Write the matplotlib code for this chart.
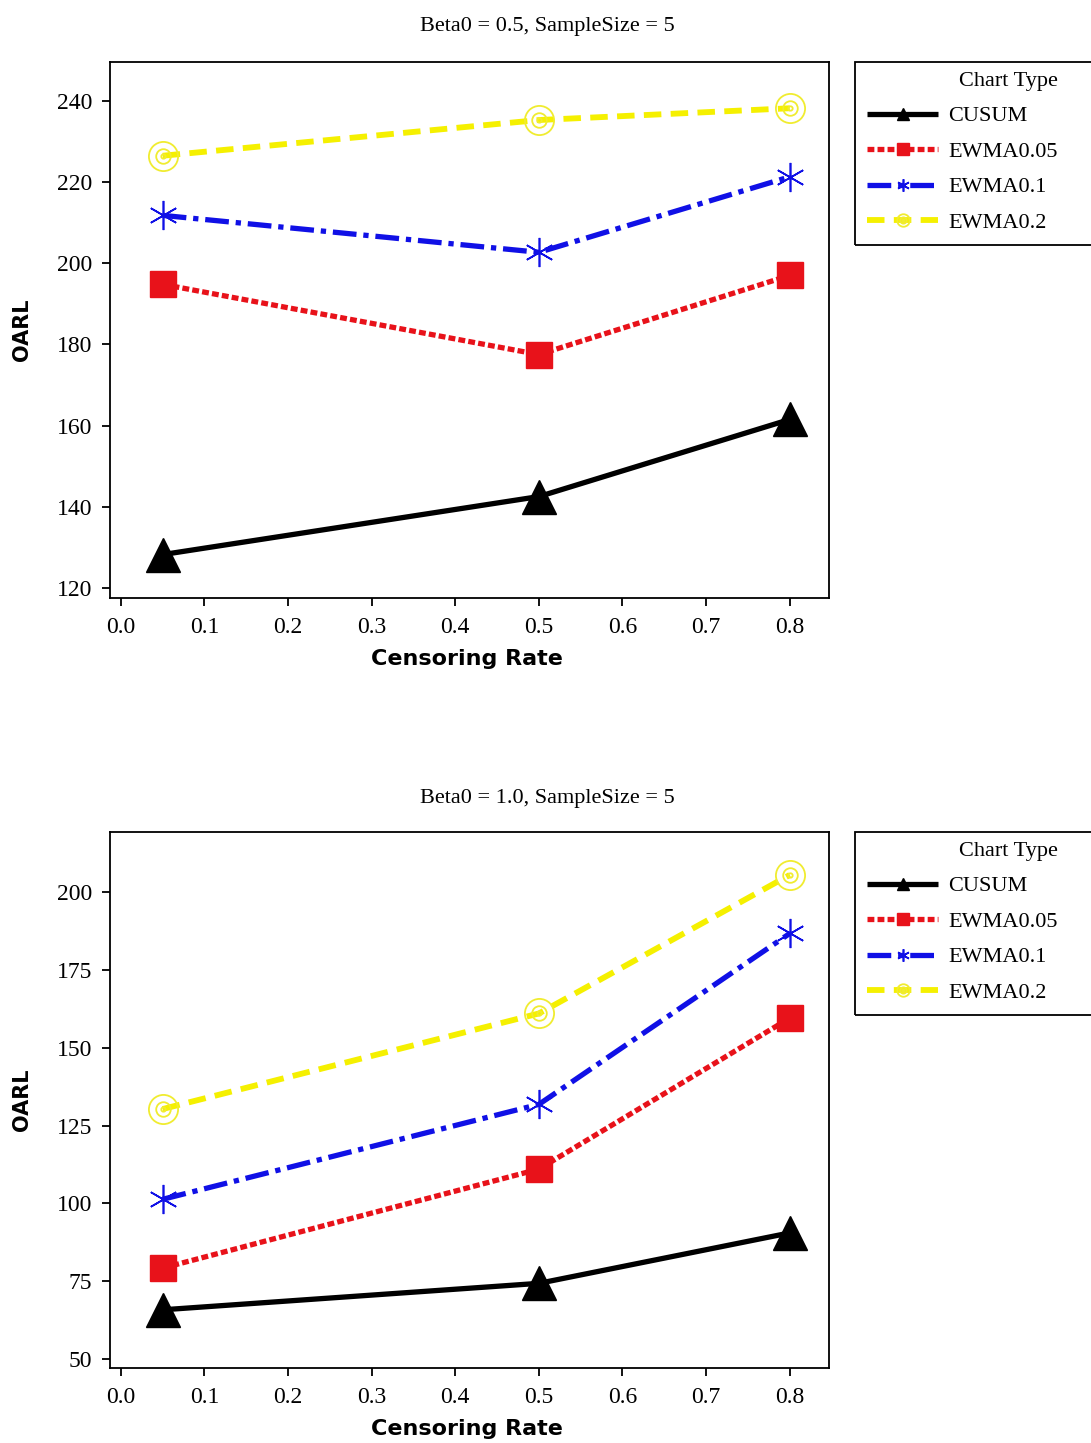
import matplotlib
matplotlib.use("Agg")
import matplotlib.pyplot as plt
from matplotlib.path import Path
from matplotlib.patches import Rectangle

censoring = [0.05, 0.5, 0.8]
series_names = ["CUSUM", "EWMA0.05", "EWMA0.1", "EWMA0.2"]

top_cusum = [128.2, 142.5, 161.5]
top_ewma005 = [194.8, 177.5, 197.0]
top_ewma01 = [211.8, 202.7, 221.3]
top_ewma02 = [226.5, 235.3, 238.2]

bot_cusum = [65.8, 74.3, 90.5]
bot_ewma005 = [79.2, 111.0, 159.5]
bot_ewma01 = [101.3, 131.8, 186.7]
bot_ewma02 = [130.3, 161.0, 205.5]

top_yticks = [120, 140, 160, 180, 200, 220, 240]
bot_yticks = [50, 75, 100, 125, 150, 175, 200]
xticks = [0.0, 0.1, 0.2, 0.3, 0.4, 0.5, 0.6, 0.7, 0.8]

titles = ["Beta0 = 0.5, SampleSize = 5", "Beta0 = 1.0, SampleSize = 5"]

serif = "Liberation Serif"

# circle-with-dot marker
circ = Path.unit_circle()
inner = Path.circle((0, 0), 0.5)
dot = Path.circle((0, 0), 0.15)
ring_dot = Path.make_compound_path(circ, inner, dot)

styles = [
    dict(color="black", linestyle="-", marker="^", ms=25, lw=3.8, mec="black", mfc="black"),
    dict(color="#e8121a", linestyle=(0, (1.3, 0.6)), marker="s", ms=19, lw=3.8, mec="#e8121a", mfc="#e8121a"),
    dict(color="#1010e6", linestyle=(0, (4.5, 1.3, 1.0, 1.3)), marker=(6, 2, 0), ms=21, lw=3.8, mec="#1010e6", mfc="#1010e6", mew=1.2),
    dict(color="#f5f000", linestyle=(0, (3.0, 1.6)), marker=ring_dot, ms=21, lw=4.2, mec="#f0ec30", mfc="none", mew=1.3),
]

fig = plt.figure(figsize=(10.91, 14.43), dpi=100)
W, H = 1091, 1443

def make_panel(ax_top, ax_bot, data, yticks, ylim, title, title_y):
    ax = fig.add_axes([110 / W, 1 - ax_bot / H, (829 - 110) / W, (ax_bot - ax_top) / H])
    for name, vals, st in zip(series_names, data, styles):
        st = dict(st)
        mew = st.pop("mew", 1.0)
        ax.plot(censoring, vals, label=name, color=st["color"], linestyle=st["linestyle"],
                marker=st["marker"], markersize=st["ms"], linewidth=st["lw"],
                markeredgecolor=st["mec"], markerfacecolor=st["mfc"], markeredgewidth=mew,
                dash_capstyle="butt", solid_capstyle="butt")
    ax.set_xlim(-0.013, 0.847)
    ax.set_ylim(*ylim)
    ax.set_xticks(xticks)
    ax.set_xticklabels([f"{v:.1f}" for v in xticks], fontfamily=serif, fontsize=17)
    ax.set_yticks(yticks)
    ax.set_yticklabels([str(v) for v in yticks], fontfamily=serif, fontsize=17)
    ax.tick_params(direction="out", length=6, width=1.3, color="black")
    ax.tick_params(axis="x", pad=8)
    ax.tick_params(axis="y", pad=7)
    for sp in ax.spines.values():
        sp.set_linewidth(1.3)
        sp.set_color("black")
    ax.set_xlabel("Censoring Rate", fontsize=16, fontweight="bold", fontfamily="DejaVu Sans")
    ax.set_ylabel("OARL", fontsize=15, fontweight="bold", fontfamily="DejaVu Sans")
    hpx = ax_bot - ax_top
    ax.xaxis.set_label_coords((467 - 110) / 719, -(659 - 598) / hpx)
    ax.yaxis.set_label_coords(-(110 - 22) / 719, 0.5)
    ax.xaxis.label.set_va("center")
    ax.yaxis.label.set_va("center")
    fig.text(547 / W, 1 - title_y / H, title, ha="center", va="center", fontfamily=serif, fontsize=16)

    # legend frame (extends past the right edge of the figure)
    fig.patches.append(Rectangle((855 / W, 1 - (ax_top + 183) / H), 300 / W, 183 / H,
                                 transform=fig.transFigure, fill=False, edgecolor="black",
                                 linewidth=1.3, zorder=5))
    leg = fig.legend(*ax.get_legend_handles_labels(), loc="upper left",
                     bbox_to_anchor=(857 / W, 1 - (ax_top + 0) / H), bbox_transform=fig.transFigure,
                     title="Chart Type", prop={"family": serif, "size": 16},
                     title_fontproperties={"family": serif, "size": 16},
                     frameon=False, alignment="right",
                     handlelength=3.2, handletextpad=0.45, labelspacing=0.67, borderpad=0.45,
                     borderaxespad=0)
    for h in leg.legend_handles:
        h.set_markersize(9)
    return ax

make_panel(62, 598, [top_cusum, top_ewma005, top_ewma01, top_ewma02], top_yticks, (117.5, 249.6),
           titles[0], 26)
make_panel(832, 1368, [bot_cusum, bot_ewma005, bot_ewma01, bot_ewma02], bot_yticks, (47.1, 219.3),
           titles[1], 798)

fig.savefig("out.png", dpi=100)
